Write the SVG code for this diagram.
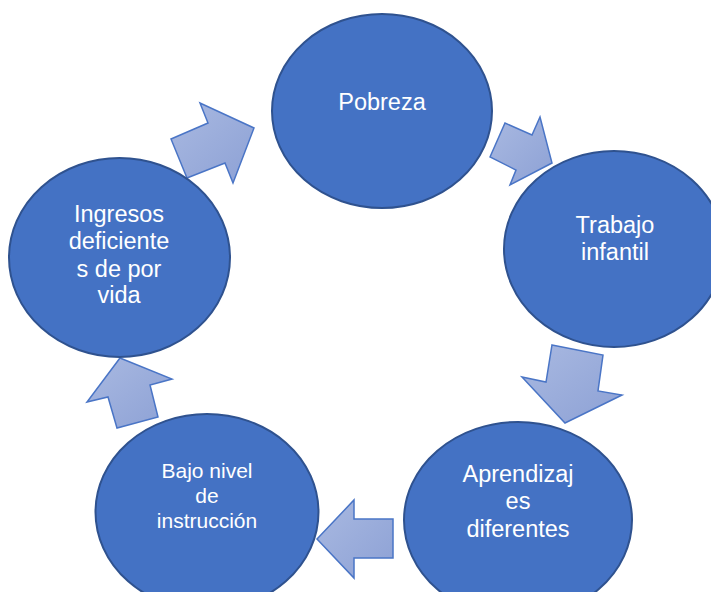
<svg xmlns="http://www.w3.org/2000/svg" width="711" height="592" viewBox="0 0 711 592">
<defs>
<linearGradient id="ag" x1="0" y1="0" x2="1" y2="1">
<stop offset="0" stop-color="#A9B9E1"/>
<stop offset="1" stop-color="#8DA1D5"/>
</linearGradient>
<style>
.arr{fill:url(#ag);stroke:#4A75C6;stroke-width:1.5;stroke-linejoin:miter}
.node ellipse{fill:#4472C4;stroke:#2F528F;stroke-width:2}
.node text{font-family:"Liberation Sans",Arial,sans-serif;fill:#FFFFFF;text-anchor:middle;font-size:23.5px}
.node text.s{font-size:21px}
</style>
</defs>
<rect width="711" height="592" fill="#FFFFFF"/>
<g id="connectors">
<polygon class="arr" points="171,139 208,123 200,103 254,128 233,183 225,163 187,178"/>
<polygon class="arr" points="490,157 505,123 532,135 540,117 552,163 510,185 516,170"/>
<polygon class="arr" points="552,345 603,355 598,391 622,395 565,423 522,377 546,382"/>
<polygon class="arr" points="317,539 354,500 354,519 393,519 393,558 354,558 354,578"/>
<polygon class="arr" points="120,358 172,379 150,385 158,417 117,428 108,397 87,402"/>
</g>
<g id="pobreza" class="node">
<ellipse cx="382" cy="111" rx="110" ry="97"/>
<text x="382" y="110">Pobreza</text>
</g>
<g id="trabajo" class="node">
<ellipse cx="614" cy="249" rx="110" ry="98"/>
<text x="615" y="233">Trabajo</text>
<text x="615" y="260">infantil</text>
</g>
<g id="aprendizajes" class="node">
<ellipse cx="518" cy="520" rx="114" ry="98"/>
<text x="518" y="482">Aprendizaj</text>
<text x="518" y="509">es</text>
<text x="518" y="537">diferentes</text>
</g>
<g id="bajo" class="node">
<ellipse cx="207" cy="512" rx="111.5" ry="98"/>
<text class="s" x="207" y="478">Bajo nivel</text>
<text class="s" x="207" y="503">de</text>
<text class="s" x="207" y="528">instrucción</text>
</g>
<g id="ingresos" class="node">
<ellipse cx="119.5" cy="257.5" rx="110.5" ry="99.5"/>
<text x="119" y="222">Ingresos</text>
<text x="119" y="249">deficiente</text>
<text x="119" y="277">s de por</text>
<text x="119" y="303">vida</text>
</g>
</svg>
